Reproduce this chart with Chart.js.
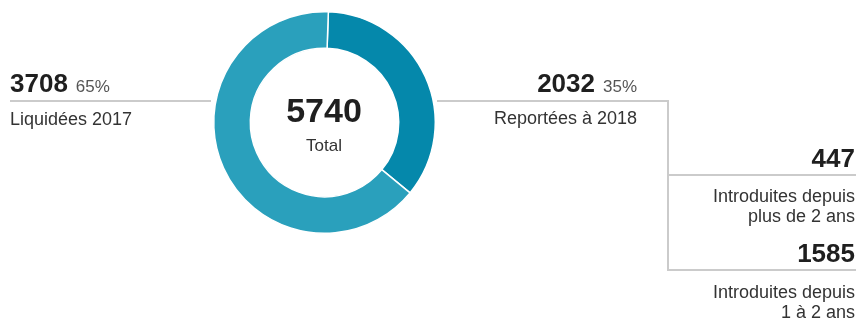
<!DOCTYPE html>
<html>
<head>
<meta charset="utf-8">
<script src="https://cdn.jsdelivr.net/npm/chart.js@4/dist/chart.umd.min.js"></script>
<style>
  html, body { margin: 0; padding: 0; background: #fff; }
  body { width: 859px; height: 320px; position: relative; overflow: hidden;
         font-family: "Liberation Sans", Arial, Helvetica, sans-serif; color: #222; }
  #wrap { position: absolute; left: 0; top: 0; width: 859px; height: 320px; }
  .t { position: absolute; white-space: nowrap; }
  .num { font-weight: bold; font-size: 26px; line-height: 26px; color: #1f1f1f; }
  .pct { font-weight: normal; font-size: 17px; color: #555; margin-left: 8px; }
  .lbl { font-size: 18px; line-height: 20px; color: #333; }
  .ln { position: absolute; background: #cbcbcb; }
</style>
</head>
<body>
<div id="wrap"><canvas id="c" width="859" height="320"></canvas></div>

<div class="ln" style="left:10px;top:100px;width:201px;height:2px"></div>
<div class="ln" style="left:437px;top:100px;width:232px;height:2px"></div>
<div class="ln" style="left:667px;top:100px;width:2px;height:171px"></div>
<div class="ln" style="left:667px;top:174px;width:189px;height:2px"></div>
<div class="ln" style="left:667px;top:269px;width:189px;height:2px"></div>

<div id="lblLeft"></div>
<div id="lblRight"></div>
<div id="lblCenter"></div>
<div id="lblSub"></div>

<script>
// ---- data ----
const categories = ['Reportées à 2018', 'Liquidées 2017'];
const values = [2032, 3708];
const colors = ['#0588ab', '#2aa0bc'];
const subCategories = ['Introduites depuis<br>plus de 2 ans', 'Introduites depuis<br>1 à 2 ans'];
const subValues = [447, 1585];
const centerLabel = 'Total';

const total = values.reduce((a, b) => a + b, 0);
const pct = v => Math.round(v / total * 100) + '%';

function place(html, css) {
  const d = document.createElement('div');
  d.className = 't';
  d.innerHTML = html;
  Object.assign(d.style, css);
  document.body.appendChild(d);
  return d;
}

// baseline offset for Liberation Sans: top = baseline - 0.8465*lineHeightFont (with line-height = font-size)
// left block
place('<span class="num">' + values[1] + '</span><span class="pct">' + pct(values[1]) + '</span>',
      { left: '10px', top: (92 - 22) + 'px', lineHeight: '26px' }).className += ' num';
place(categories[1], { left: '10px', top: (125 - 16) + 'px' }).className += ' lbl';

// right block
place('<span class="num">' + values[0] + '</span><span class="pct">' + pct(values[0]) + '</span>',
      { right: (859 - 637) + 'px', top: (92 - 22) + 'px', lineHeight: '26px' }).className += ' num';
place(categories[0], { right: (859 - 637) + 'px', top: (124 - 16) + 'px', textAlign: 'right' }).className += ' lbl';

// sub items
place(String(subValues[0]), { right: (859 - 855) + 'px', top: (167 - 22) + 'px' }).className += ' num';
place(subCategories[0], { right: (859 - 855) + 'px', top: (202 - 16) + 'px', textAlign: 'right' }).className += ' lbl';
place(String(subValues[1]), { right: (859 - 855) + 'px', top: (262 - 22) + 'px' }).className += ' num';
place(subCategories[1], { right: (859 - 855) + 'px', top: (298 - 16) + 'px', textAlign: 'right' }).className += ' lbl';

// center
place(String(total), { left: '224px', width: '200px', textAlign: 'center', top: (122 - 29) + 'px',
      fontSize: '34px', lineHeight: '34px', fontWeight: 'bold', color: '#1f1f1f' });
place(centerLabel, { left: '224px', width: '200px', textAlign: 'center', top: (151 - 14.4) + 'px',
      fontSize: '17px', lineHeight: '17px', color: '#333' });

new Chart(document.getElementById('c'), {
  type: 'doughnut',
  data: {
    labels: categories,
    datasets: [{
      data: values,
      backgroundColor: colors,
      borderColor: '#ffffff',
      borderWidth: 1.5,
      hoverOffset: 0
    }]
  },
  options: {
    responsive: false,
    animation: false,
    rotation: 2,
    cutout: '67%',
    layout: { padding: { left: 213, right: 859 - 436, top: 11, bottom: 320 - 234 } },
    plugins: { legend: { display: false }, tooltip: { enabled: false } }
  }
});
</script>
</body>
</html>
